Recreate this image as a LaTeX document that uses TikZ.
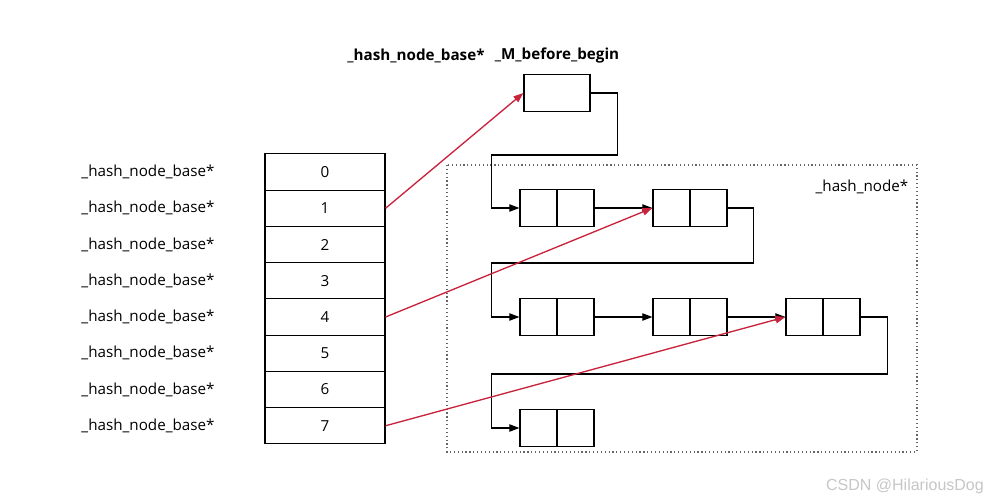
\documentclass[tikz,border=0pt]{standalone}
\usepackage{fontspec}
\setmainfont{Open Sans}
\newfontfamily\marksans{Liberation Sans}
\usetikzlibrary{
    arrows.meta,
    calc
}
\definecolor{pointerred}{RGB}{200,35,60}
\tikzset{
    % Colors
    link color/.style={black},
    pointer color/.style={pointerred},
    %
    % Nodes
    cell/.style={draw,line width=0.9pt,minimum width=90pt,minimum height=27.19pt,inner sep=0pt},
    base label/.style={inner sep=0pt},
    head box/.style={draw,line width=0.9pt,minimum width=49.5pt,minimum height=27.75pt,inner sep=0pt},
    hash node/.style={draw,line width=0.9pt,minimum width=55.5pt,minimum height=27.75pt,inner sep=0pt,
        path picture={\draw[line width=0.9pt] (path picture bounding box.north) -- (path picture bounding box.south);}},
    %
    % Arrows
    arrow tip/.tip={Triangle[length=7.5pt,width=5.5pt]},
    arr/.style={link color,line width=0.8pt,-{arrow tip}},
    red arr/.style={pointer color,line width=1pt,-{arrow tip}}
}
\tikzstyle{every node}=[font=\fontsize{11.4}{13}\selectfont]

\begin{document}
\begin{tikzpicture}[x=0.75pt,y=-0.75pt]
        \useasboundingbox (0,0) rectangle (1008,503);
        % bucket array
        \foreach \i in {0,...,7} {
            \node[cell] (cell\i) at (325,172+36.25*\i) {\i};
            \node[base label] (lbl\i) at (148,172+36.25*\i) {\_hash\_node\_base*};
        }
        % before begin
        \node[base label] (toplbl) at (416,56) {\bfseries\_hash\_node\_base*};
        \node[base label] (bblbl) at (557,56) {\bfseries\_M\_before\_begin};
        \node[head box] (bb) at (557,93) {};
        % hash nodes
        \draw[gray!80!black,dotted,line width=0.9pt] (447,165) rectangle (917,452);
        \node[base label] (hnlbl) at (862,187) {\_hash\_node*};
        \node[hash node] (hnA) at (557,208) {};
        \node[hash node] (hnB) at (690,208) {};
        \node[hash node] (hnC) at (557,317) {};
        \node[hash node] (hnD) at (690,317) {};
        \node[hash node] (hnE) at (823,317) {};
        \node[hash node] (hnF) at (557,428) {};
        % next links
        \draw[arr] (bb.east) -- ++(27,0) -- ++(0,62) -| ($(hnA.west)+(-28,0)$) -- (hnA.west);
        \draw[arr] (hnA.east) -- (hnB.west);
        \draw[arr] (hnB.east) -- ++(26,0) -- ++(0,55) -| ($(hnC.west)+(-28,0)$) -- (hnC.west);
        \draw[arr] (hnC.east) -- (hnD.west);
        \draw[arr] (hnD.east) -- (hnE.west);
        \draw[arr] (hnE.east) -- ++(27,0) -- ++(0,57) -| ($(hnF.west)+(-28,0)$) -- (hnF.west);
        % bucket pointers
        \draw[red arr] (cell1.east) -- (bb.west);
        \draw[red arr] (cell4.east) -- (hnB.west);
        \draw[red arr] (cell7.east) -- (hnE.west);
        \node[base label,text=gray!45,font=\marksans\fontsize{12}{14}\selectfont] (mark) at (905,486) {CSDN @HilariousDog};
    \end{tikzpicture}
\end{document}
